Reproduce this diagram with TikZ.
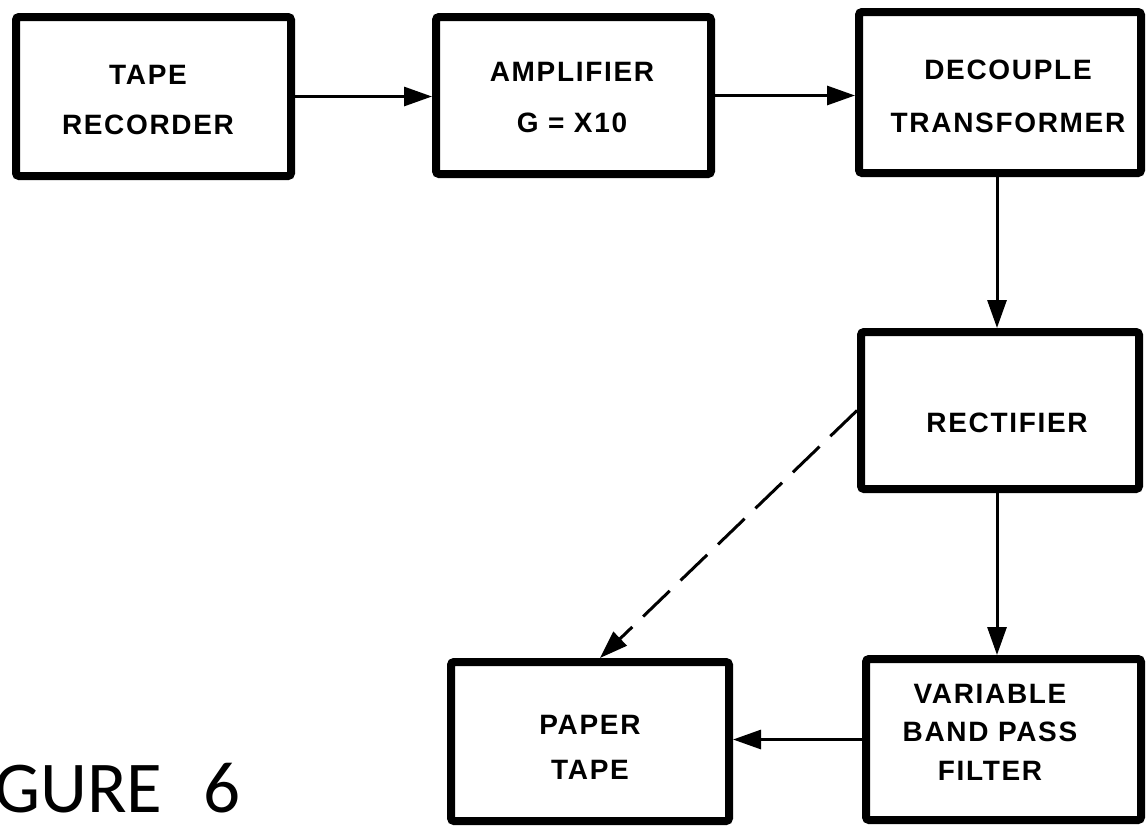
\documentclass[tikz,border=0pt]{standalone}
\usepackage{fontspec}
\setmainfont{Liberation Sans}[LetterSpace=6]
\newfontfamily\figfont{Carlito}
\usetikzlibrary{arrows.meta}
\begin{document}
\begin{tikzpicture}[x=1pt,y=-1pt,
  blk/.style={draw, line width=8pt, rounded corners=3pt, inner sep=0pt},
  lbl/.style={font=\bfseries\fontsize{28}{#1}\selectfont, align=center, inner sep=0pt},
  lbl/.default=50,
  conn/.style={line width=3pt, -{Triangle[length=28pt,width=19pt]}},
  dconn/.style={conn, dash pattern=on 37pt off 15pt}]
\useasboundingbox (0,0) rectangle (1147,827);
\fill[white] (0,0) rectangle (1147,827);
% boxes
\node[blk, minimum width=275pt, minimum height=159pt] (tr) at (153.5,96.5) {};
\node[blk, minimum width=275pt, minimum height=157pt] (amp) at (573.5,95.5) {};
\node[blk, minimum width=282pt, minimum height=161pt] (dec) at (1000,92.5) {};
\node[blk, minimum width=278pt, minimum height=157pt] (rect) at (1000,410.5) {};
\node[blk, minimum width=275pt, minimum height=161pt] (filt) at (1003.5,739.5) {};
\node[blk, minimum width=278pt, minimum height=159pt] (pap) at (590,741.5) {};
% labels
\node[lbl=50] (trl) at (148,100) {TAPE\\RECORDER};
\node[lbl=51] (ampl) at (572,97.5) {AMPLIFIER\\G = X10};
\node[lbl=53] (decl) at (1008,96.5) {DECOUPLE\\TRANSFORMER};
\node[lbl] (rectl) at (1007,423) {RECTIFIER};
\node[lbl=38.5] (filtl) at (990,732) {VARIABLE\\BAND PASS\\FILTER};
\node[lbl=45] (papl) at (590,747.5) {PAPER\\TAPE};
\node[font=\figfont\fontsize{73}{80}\selectfont, anchor=base west, inner sep=0pt] (fig) at (-6,812) {GURE\hspace{25pt} 6};
% connectors
\draw[conn] (tr.east) -- (tr.east -| amp.west);
\draw[conn] (amp.east) -- (amp.east -| dec.west);
\draw[conn] ([xshift=-3pt]dec.south) -- ([xshift=-3pt]dec.south |- rect.north);
\draw[conn] ([xshift=-3pt]rect.south) -- ([xshift=-3pt]rect.south |- filt.north);
\draw[conn] (filt.west) -- (filt.west -| pap.east);
\draw[dconn] (rect.west) -- ([xshift=10pt]pap.north);
\end{tikzpicture}
\end{document}
